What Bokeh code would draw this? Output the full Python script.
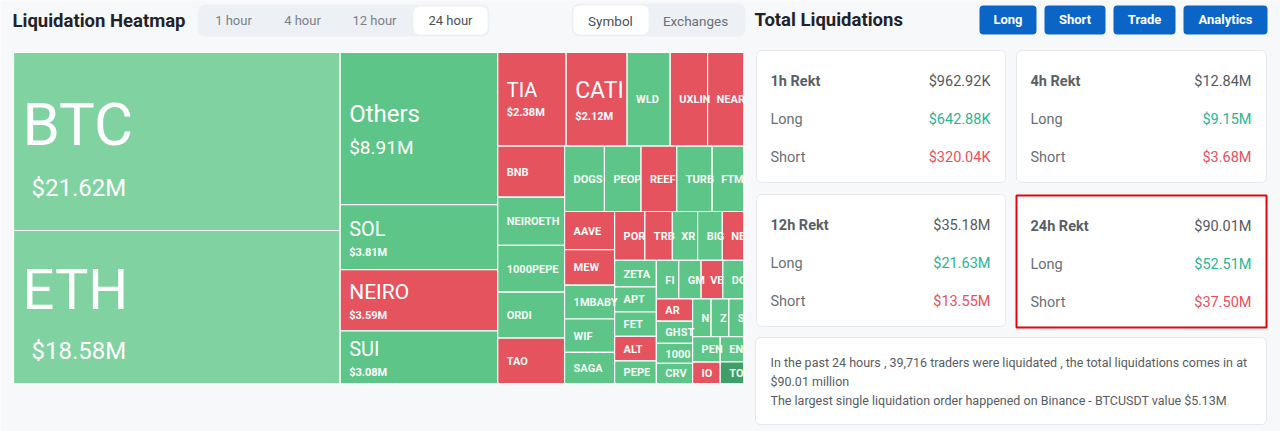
from bokeh.plotting import figure
from bokeh.models import ColumnDataSource, Range1d
from bokeh.embed import file_html
from bokeh.resources import INLINE
from bokeh.core.properties import value

W, H = 1280, 431

# ---------------- data ----------------
symbols = ["BTC", "ETH",
           "Others", "SOL", "NEIRO", "SUI",
           "TIA", "CATI", "WLD", "UXLINK", "NEAR",
           "BNB", "NEIROETH", "1000PEPE", "ORDI", "TAO",
           "DOGS", "PEOPLE", "REEF", "TURBO", "FTM",
           "AAVE", "MEW", "1MBABYDOGE", "WIF", "SAGA",
           "PORTAL", "TRB", "XRP", "BIGTIME", "NEO",
           "ZETA", "APT", "FET", "ALT", "PEPE",
           "FIL", "GMT", "VET", "DOGE",
           "AR", "GHST", "1000SATS", "CRV",
           "NOT", "ZRO", "SEI",
           "PENDLE", "IO",
           "ENA",
           "TON"]
values_m = [21.62, 18.58,
            8.91, 3.81, 3.59, 3.08,
            2.38, 2.12, 1.50, 1.30, 1.26,
            1.27, 1.20, 1.16, 1.14, 1.13,
            0.97, 0.89, 0.87, 0.86, 0.77,
            0.71, 0.66, 0.63, 0.62, 0.58,
            0.55, 0.50, 0.46, 0.45, 0.39,
            0.41, 0.39, 0.38, 0.38, 0.35,
            0.32, 0.32, 0.31, 0.30,
            0.30, 0.30, 0.27, 0.27,
            0.26, 0.25, 0.21,
            0.26, 0.22,
            0.22,
            0.19]
# dominant side / shade of each tile
tone = ["light", "light",
        "mid", "mid", "red", "mid",
        "red", "red", "mid", "red", "red",
        "red", "mid", "mid", "mid", "red",
        "mid", "mid", "red", "mid", "mid",
        "red", "red", "mid", "mid", "mid",
        "red", "red", "mid", "mid", "red",
        "mid", "mid", "mid", "red", "mid",
        "mid", "mid", "red", "mid",
        "red", "mid", "mid", "mid",
        "mid", "mid", "mid",
        "mid", "red",
        "mid",
        "dark"]
# number of tiles in each squarified strip
strip_sizes = [2, 4, 5, 5, 5, 5, 5, 5, 4, 4, 3, 2, 1, 1]

periods = ["1h", "4h", "12h", "24h"]
total_m = [0.96292, 12.84, 35.18, 90.01]
long_m = [0.64288, 9.15, 21.63, 52.51]
short_m = [0.32004, 3.68, 13.55, 37.50]

time_tabs = ["1 hour", "4 hour", "12 hour", "24 hour"]
view_tabs = ["Symbol", "Exchanges"]
buttons = ["Long", "Short", "Trade", "Analytics"]

summary = ["In the past 24 hours , 39,716 traders were liquidated , the total liquidations comes in at",
           "$90.01 million",
           "The largest single liquidation order happened on Binance - BTCUSDT value $5.13M"]

# ---------------- styles ----------------
BG = "#f7f8fa"
TONE_COLORS = {"light": "#80d2a0", "mid": "#5dc588", "red": "#e5535f", "dark": "#3f9f68"}
GREEN_TXT = "#2bb594"
RED_TXT = "#e9505c"
GRAY_TXT = "#555a61"
FONT = "Roboto"
# big tile label style: name size, name dx, name baseline dy (from centre),
#                       value size, value dx, value baseline dy
BIG = {"BTC": (60, 9, 4, 24, 18, 55),
       "ETH": (56, 9, 3, 24, 18, 53),
       "Others": (24, 9, -6, 19, 9, 26),
       "SOL": (20, 9, -1, 11, 9, 19),
       "NEIRO": (21, 9, -1, 11, 9, 19),
       "SUI": (20, 9, -1, 11, 9, 19),
       "TIA": (20, 9, -2, 11, 9, 17),
       "CATI": (23, 9, -1, 11, 9, 21)}


def mid(baseline, fs):
    """vertical centre of capitals for a given baseline"""
    return baseline - 0.355 * fs


p = figure(width=W, height=H, x_range=Range1d(0, W), y_range=Range1d(H, 0),
           output_backend="svg", toolbar_location=None, min_border=0,
           x_axis_type=None, y_axis_type=None)
p.grid.visible = False
p.outline_line_color = None
p.background_fill_color = BG
p.border_fill_color = BG

# ---------------- treemap layout (squarified strips) ----------------
X0, Y0, X1, Y1 = 13.0, 52.0, 743.3, 383.0
rects = []
x0, y0, x1, y1 = X0, Y0, X1, Y1
i = 0
for n in strip_sizes:
    rem = sum(values_m[i:])
    strip = values_m[i:i + n]
    s = sum(strip)
    w, h = x1 - x0, y1 - y0
    if w >= h:
        cw_ = w * s / rem
        yy = y0
        for v in strip:
            ih = h * v / s
            rects.append((x0, yy, x0 + cw_, yy + ih))
            yy += ih
        x0 += cw_
    else:
        rh = h * s / rem
        xx = x0
        for v in strip:
            iw = w * v / s
            rects.append((xx, y0, xx + iw, y0 + rh))
            xx += iw
        y0 += rh
    i += n

tile = ColumnDataSource(dict(
    l=[r[0] for r in rects], r=[r[2] for r in rects],
    t=[r[1] for r in rects], b=[r[3] for r in rects],
    c=[TONE_COLORS[t] for t in tone]))
p.quad(left="l", right="r", top="t", bottom="b", fill_color="c",
       line_color="white", line_width=1.2, source=tile)


def cw(ch):
    if ch in "I1":
        return 3.6
    if ch in "MW":
        return 9.0
    return 7.0


def fit(name, avail):
    out, acc = "", 0.0
    for ch in name:
        acc += cw(ch)
        if acc - 0.6 * cw(ch) > avail + 1.0:
            break
        out += ch
    return out


small = dict(x=[], y=[], text=[])
big_n = dict(x=[], y=[], text=[], size=[])
big_v = dict(x=[], y=[], text=[], size=[])
big_vs = dict(x=[], y=[], text=[], size=[])
for sym, v, (l, t, r, b) in zip(symbols, values_m, rects):
    cy = (t + b) / 2
    if sym in BIG:
        ns, ndx, ndy, vs, vdx, vdy = BIG[sym]
        big_n["x"].append(l + ndx); big_n["y"].append(mid(cy + ndy, ns))
        big_n["text"].append(sym); big_n["size"].append(f"{ns}px")
        d = big_v if vs > 12 else big_vs
        d["x"].append(l + vdx); d["y"].append(mid(cy + vdy, vs))
        d["text"].append(f"${v:.2f}M"); d["size"].append(f"{vs}px")
    else:
        small["x"].append(l + 9); small["y"].append(cy + 0.5)
        small["text"].append(fit(sym, r - l - 10))

p.text(x="x", y="y", text="text", source=ColumnDataSource(small),
       text_font=value(FONT), text_font_size="11px", text_font_style="bold",
       text_color="#f4fbf6", text_baseline="middle", text_align="left")
p.text(x="x", y="y", text="text", source=ColumnDataSource(big_n),
       text_font=value(FONT), text_font_size="size",
       text_color="white", text_baseline="middle", text_align="left")
p.text(x="x", y="y", text="text", source=ColumnDataSource(big_v),
       text_font=value(FONT), text_font_size="size",
       text_color="white", text_baseline="middle", text_align="left")
p.text(x="x", y="y", text="text", source=ColumnDataSource(big_vs),
       text_font=value(FONT), text_font_size="size", text_font_style="bold",
       text_color="white", text_baseline="middle", text_align="left")

# ---------------- headers & tabs ----------------
p.text(x=[12, 754], y=[mid(27, 18), mid(26, 18)],
       text=["Liquidation Heatmap", "Total Liquidations"], text_font=value(FONT),
       text_font_size="18.5px", text_font_style="bold", text_color="#1f2329",
       text_baseline="middle")

p.quad(left=[197], right=[489], top=[4], bottom=[36], fill_color="#edf0f4",
       line_color=None, border_radius=8)
tab_l = [199, 268, 337, 413]
tab_r = [267, 336, 411, 487]
p.quad(left=[tab_l[3]], right=[tab_r[3]], top=[6], bottom=[34], fill_color="white",
       line_color=None, border_radius=6)
p.text(x=[(a + b) / 2 for a, b in zip(tab_l, tab_r)], y=[20] * 4, text=time_tabs,
       text_font=value(FONT), text_font_size="13px",
       text_color=["#7b8189"] * 3 + ["#4a4f56"],
       text_align="center", text_baseline="middle")

p.quad(left=[571], right=[745], top=[3], bottom=[36], fill_color="#edf0f4",
       line_color=None, border_radius=8)
p.quad(left=[573], right=[648], top=[5], bottom=[34], fill_color="white",
       line_color=None, border_radius=6)
p.text(x=[610, 695], y=[20, 20], text=view_tabs,
       text_font=value(FONT), text_font_size="13.5px", text_color=["#4a4f56", "#6b7179"],
       text_align="center", text_baseline="middle")

btn_l = [979, 1044, 1113, 1183]
btn_r = [1036, 1105, 1175, 1267]
p.quad(left=btn_l, right=btn_r, top=[5] * 4, bottom=[34] * 4, fill_color="#0b65c6",
       line_color=None, border_radius=4)
p.text(x=[(a + b) / 2 for a, b in zip(btn_l, btn_r)], y=[19] * 4, text=buttons,
       text_font=value(FONT), text_font_size="13px", text_font_style="bold",
       text_color="white", text_align="center", text_baseline="middle")

# ---------------- cards ----------------
card_l = [756, 1016, 756, 1016]
card_r = [1005, 1266, 1005, 1266]
card_t = [50, 50, 194, 195]
card_b = [182, 182, 326, 327]
p.quad(left=card_l[:3], right=card_r[:3], top=card_t[:3], bottom=card_b[:3],
       fill_color="white", line_color="#e6e8eb", line_width=1, border_radius=5)
p.quad(left=[card_l[3]], right=[card_r[3]], top=[card_t[3]], bottom=[card_b[3]],
       fill_color="white", line_color="#e0060c", line_width=2)


def money(v):
    return f"${v * 1000:.2f}K" if v < 1 else f"${v:.2f}M"


FS = 14.5
lx, ly, lt, rx, ry, rt, rc = [], [], [], [], [], [], []
for k in range(4):
    L, R, T = card_l[k], card_r[k], card_t[k]
    lx += [L + 14, L + 14]; ly += [mid(T + 74, FS), mid(T + 112, FS)]; lt += ["Long", "Short"]
    rx += [R - 15] * 3; ry += [mid(T + 36, FS), mid(T + 74, FS), mid(T + 112, FS)]
    rt += [money(total_m[k]), money(long_m[k]), money(short_m[k])]
    rc += [GRAY_TXT, GREEN_TXT, RED_TXT]
p.text(x=[card_l[k] + 14 for k in range(4)], y=[mid(card_t[k] + 36, FS) for k in range(4)],
       text=[f"{pp} Rekt" for pp in periods], text_font=value(FONT), text_font_size=f"{FS}px",
       text_font_style="bold", text_color="#5a5f66", text_baseline="middle")
p.text(x=lx, y=ly, text=lt, text_font=value(FONT), text_font_size=f"{FS}px",
       text_color="#6a6f76", text_baseline="middle")
p.text(x=rx, y=ry, text=rt, text_font=value(FONT), text_font_size=f"{FS}px",
       text_color=rc, text_align="right", text_baseline="middle")

p.quad(left=[755], right=[1266], top=[337], bottom=[424], fill_color="white",
       line_color="#e6e8eb", line_width=1, border_radius=5)
p.text(x=[770] * 3, y=[mid(b, 12.5) for b in (366, 385, 404)], text=summary,
       text_font=value(FONT), text_font_size="12.5px", text_color="#575c63",
       text_baseline="middle")

open("out.html", "w").write(file_html(p, INLINE))
